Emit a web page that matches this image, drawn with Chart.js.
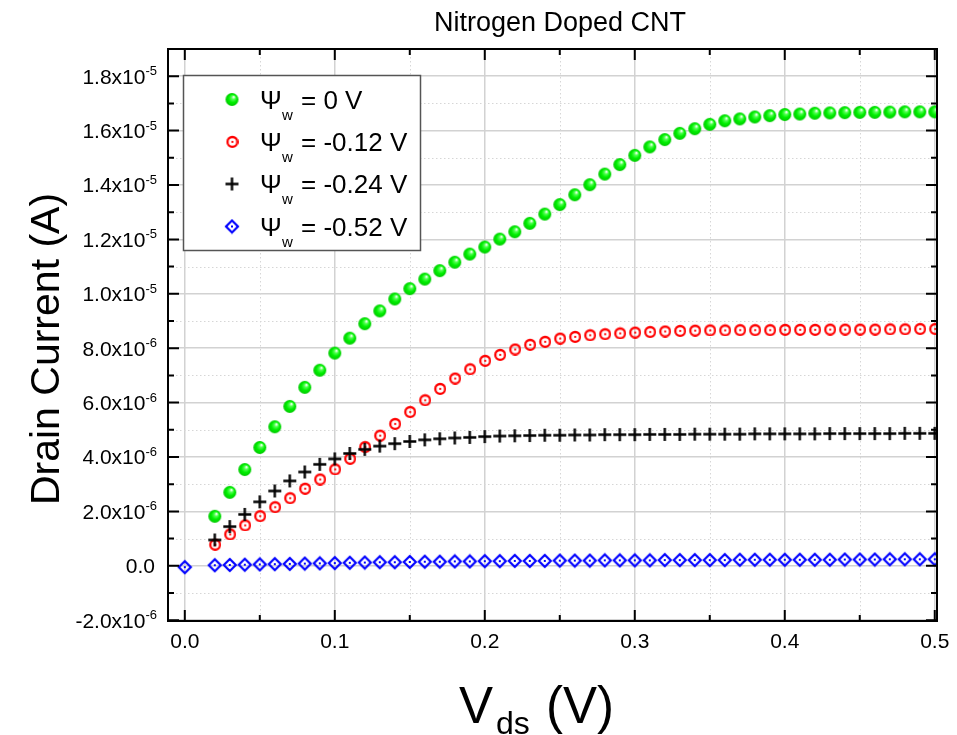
<!DOCTYPE html>
<html>
<head>
<meta charset="utf-8">
<script src="https://cdn.jsdelivr.net/npm/chart.js@4.4.1/dist/chart.umd.min.js"></script>
<style>
  html, body { margin: 0; padding: 0; background: #fff; }
  #wrap { width: 957px; height: 735px; }
</style>
</head>
<body>
<div id="wrap"><canvas id="ivChart" width="957" height="735"></canvas></div>
<script>
// Drain-source voltage (V)
const vds = [0.00, 0.02, 0.03, 0.04, 0.05, 0.06, 0.07, 0.08, 0.09, 0.10, 0.11,
  0.12, 0.13, 0.14, 0.15, 0.16, 0.17, 0.18, 0.19, 0.20, 0.21,
  0.22, 0.23, 0.24, 0.25, 0.26, 0.27, 0.28, 0.29, 0.30, 0.31,
  0.32, 0.33, 0.34, 0.35, 0.36, 0.37, 0.38, 0.39, 0.40, 0.41,
  0.42, 0.43, 0.44, 0.45, 0.46, 0.47, 0.48, 0.49, 0.50];

// Drain current, in units of 1e-6 A
const psi0 = [null, 1.82, 2.70, 3.54, 4.35, 5.11, 5.86, 6.56, 7.19, 7.82, 8.37,
  8.90, 9.37, 9.81, 10.19, 10.54, 10.85, 11.16, 11.46, 11.72, 12.01,
  12.28, 12.59, 12.93, 13.28, 13.64, 14.01, 14.40, 14.75, 15.09, 15.40,
  15.67, 15.90, 16.07, 16.23, 16.36, 16.43, 16.50, 16.55, 16.59, 16.61,
  16.64, 16.65, 16.66, 16.67, 16.67, 16.68, 16.69, 16.69, 16.69];
const psi012 = [null, 0.79, 1.17, 1.50, 1.84, 2.17, 2.50, 2.85, 3.19, 3.56, 3.95,
  4.38, 4.80, 5.23, 5.67, 6.10, 6.52, 6.90, 7.24, 7.55, 7.77,
  7.97, 8.14, 8.25, 8.37, 8.43, 8.49, 8.53, 8.56, 8.59, 8.61,
  8.63, 8.65, 8.66, 8.67, 8.67, 8.68, 8.68, 8.68, 8.69, 8.69,
  8.69, 8.70, 8.70, 8.70, 8.70, 8.71, 8.71, 8.72, 8.72];
const psi024 = [null, 0.95, 1.44, 1.89, 2.35, 2.75, 3.12, 3.45, 3.73, 3.93, 4.13,
  4.28, 4.40, 4.49, 4.57, 4.63, 4.67, 4.70, 4.72, 4.75, 4.77,
  4.78, 4.79, 4.80, 4.80, 4.81, 4.81, 4.82, 4.82, 4.82, 4.83,
  4.83, 4.83, 4.84, 4.84, 4.84, 4.84, 4.85, 4.85, 4.85, 4.85,
  4.85, 4.86, 4.86, 4.86, 4.86, 4.86, 4.87, 4.87, 4.87];
const psi052 = [-0.05, 0.02, 0.03, 0.04, 0.05, 0.06, 0.07, 0.08, 0.09, 0.10, 0.11,
  0.12, 0.13, 0.13, 0.14, 0.15, 0.15, 0.16, 0.16, 0.17, 0.17,
  0.18, 0.18, 0.18, 0.19, 0.19, 0.19, 0.20, 0.20, 0.20, 0.20,
  0.21, 0.21, 0.21, 0.21, 0.21, 0.22, 0.22, 0.22, 0.22, 0.22,
  0.22, 0.22, 0.23, 0.23, 0.23, 0.24, 0.24, 0.24, 0.24];

const seriesNames = ['= 0 V', '= -0.12 V', '= -0.24 V', '= -0.52 V'];

const xTicks = [0, 0.1, 0.2, 0.3, 0.4, 0.5];
const xTickLabels = ['0.0', '0.1', '0.2', '0.3', '0.4', '0.5'];
const xMinor = [0.05, 0.15, 0.25, 0.35, 0.45];
const yTicks = [-2e-6, 0, 2e-6, 4e-6, 6e-6, 8e-6, 1e-5, 1.2e-5, 1.4e-5, 1.6e-5, 1.8e-5];
const yTickMant = ['-2.0', '0.0', '2.0', '4.0', '6.0', '8.0', '1.0', '1.2', '1.4', '1.6', '1.8'];
const yTickExp = ['-6', '', '-6', '-6', '-6', '-6', '-5', '-5', '-5', '-5', '-5'];
const yMinor = [-1e-6, 1e-6, 3e-6, 5e-6, 7e-6, 9e-6, 1.1e-5, 1.3e-5, 1.5e-5, 1.7e-5];

const FONT = '"Liberation Sans", Arial, sans-serif';

// ---- marker images ----
function makeSphere(r) {
  const c = document.createElement('canvas');
  const s = 2 * r + 2;
  c.width = c.height = s;
  const g = c.getContext('2d');
  const m = s / 2;
  const grad = g.createRadialGradient(m + r * 0.3, m - r * 0.4, r * 0.05, m, m, r);
  grad.addColorStop(0, '#ffffff');
  grad.addColorStop(0.25, '#55ff55');
  grad.addColorStop(0.6, '#00f000');
  grad.addColorStop(1, '#00c800');
  g.fillStyle = grad;
  g.beginPath(); g.arc(m, m, r, 0, Math.PI * 2); g.fill();
  return c;
}
function makeRing(r) {
  const c = document.createElement('canvas');
  const s = 2 * r + 4;
  c.width = c.height = s;
  const g = c.getContext('2d');
  const m = s / 2;
  g.strokeStyle = '#ff0000'; g.fillStyle = '#ff0000'; g.lineWidth = 2.3;
  g.beginPath(); g.arc(m, m, r, 0, Math.PI * 2); g.stroke();
  g.beginPath(); g.arc(m, m, 1.1, 0, Math.PI * 2); g.fill();
  return c;
}
function makePlus(h) {
  const c = document.createElement('canvas');
  const s = 2 * h + 2;
  c.width = c.height = s;
  const g = c.getContext('2d');
  const m = s / 2;
  g.strokeStyle = '#000'; g.lineWidth = 2.4;
  g.beginPath();
  g.moveTo(m - h, m); g.lineTo(m + h, m);
  g.moveTo(m, m - h); g.lineTo(m, m + h);
  g.stroke();
  return c;
}
function makeDiamond(h) {
  const c = document.createElement('canvas');
  const s = 2 * h + 4;
  c.width = c.height = s;
  const g = c.getContext('2d');
  const m = s / 2;
  g.strokeStyle = '#0000ff'; g.fillStyle = '#0000ff'; g.lineWidth = 2.2;
  g.beginPath();
  g.moveTo(m, m - h); g.lineTo(m + h, m); g.lineTo(m, m + h); g.lineTo(m - h, m); g.closePath();
  g.stroke();
  g.fillRect(m - 1, m - 1, 2, 2);
  return c;
}
const markers = [makeSphere(6.5), makeRing(4.9), makePlus(6.5), makeDiamond(6)];

function toPoints(arr) {
  return vds.map((x, i) => ({ x: x, y: arr[i] === null ? null : arr[i] * 1e-6 }));
}

// ---- frame, minor grid, inward ticks, labels, legend ----
const decor = {
  id: 'decor',
  beforeDatasetsDraw(chart) {
    const { ctx, chartArea: a, scales: { x, y } } = chart;
    ctx.save();
    ctx.strokeStyle = '#d6d6d6';
    ctx.lineWidth = 1;
    ctx.setLineDash([1.5, 2.5]);
    xMinor.forEach(v => {
      const px = Math.round(x.getPixelForValue(v)) + 0.5;
      ctx.beginPath(); ctx.moveTo(px, a.top); ctx.lineTo(px, a.bottom); ctx.stroke();
    });
    yMinor.forEach(v => {
      const py = Math.round(y.getPixelForValue(v)) + 0.5;
      ctx.beginPath(); ctx.moveTo(a.left, py); ctx.lineTo(a.right, py); ctx.stroke();
    });
    ctx.restore();
  },
  afterDatasetsDraw(chart) {
    const { ctx, chartArea: a, scales: { x, y } } = chart;
    ctx.save();
    ctx.strokeStyle = '#000';
    ctx.lineWidth = 2;
    ctx.strokeRect(a.left, a.top, a.right - a.left, a.bottom - a.top);
    const major = 11, minor = 6;
    ctx.beginPath();
    xTicks.forEach(v => {
      const px = x.getPixelForValue(v);
      ctx.moveTo(px, a.bottom); ctx.lineTo(px, a.bottom - major);
      ctx.moveTo(px, a.top); ctx.lineTo(px, a.top + major);
    });
    xMinor.forEach(v => {
      const px = x.getPixelForValue(v);
      ctx.moveTo(px, a.bottom); ctx.lineTo(px, a.bottom - minor);
      ctx.moveTo(px, a.top); ctx.lineTo(px, a.top + minor);
    });
    yTicks.forEach(v => {
      const py = y.getPixelForValue(v);
      ctx.moveTo(a.left, py); ctx.lineTo(a.left + major, py);
      ctx.moveTo(a.right, py); ctx.lineTo(a.right - major, py);
    });
    yMinor.forEach(v => {
      const py = y.getPixelForValue(v);
      ctx.moveTo(a.left, py); ctx.lineTo(a.left + minor, py);
      ctx.moveTo(a.right, py); ctx.lineTo(a.right - minor, py);
    });
    ctx.stroke();

    // x tick labels
    ctx.fillStyle = '#000';
    ctx.font = '21px ' + FONT;
    ctx.textAlign = 'center';
    ctx.textBaseline = 'alphabetic';
    xTicks.forEach((v, i) => ctx.fillText(xTickLabels[i], x.getPixelForValue(v), 648));

    // y tick labels with superscript exponent
    const rightEdge = 157;
    yTicks.forEach((v, i) => {
      const py = y.getPixelForValue(v);
      ctx.textAlign = 'right';
      if (yTickExp[i]) {
        ctx.font = '13px ' + FONT;
        const ew = ctx.measureText(yTickExp[i]).width;
        ctx.fillText(yTickExp[i], rightEdge, py - 1);
        ctx.font = '21px ' + FONT;
        ctx.fillText(yTickMant[i] + 'x10', rightEdge - ew, py + 7.5);
      } else {
        ctx.font = '21px ' + FONT;
        ctx.fillText(yTickMant[i], rightEdge - 2, py + 7.5);
      }
    });

    // title
    ctx.textAlign = 'center';
    ctx.font = '27px ' + FONT;
    ctx.fillText('Nitrogen Doped CNT', 560, 31);

    // y axis title
    ctx.save();
    ctx.translate(59, 349);
    ctx.rotate(-Math.PI / 2);
    ctx.font = '41px ' + FONT;
    ctx.textAlign = 'center';
    ctx.fillText('Drain Current (A)', 0, 0);
    ctx.restore();

    // x axis title: V_ds (V)
    ctx.textAlign = 'left';
    let tx = 459;
    ctx.font = '51px ' + FONT;
    ctx.fillText('V', tx, 723);
    tx += ctx.measureText('V').width + 3;
    ctx.font = '32px ' + FONT;
    ctx.fillText('ds', tx, 734);
    tx += ctx.measureText('ds').width + 2;
    ctx.font = '51px ' + FONT;
    ctx.fillText(' (V)', tx, 723);

    // legend
    const lx = 183.5, ly = 75.5, lw = 237, lh = 175;
    ctx.fillStyle = '#fff';
    ctx.fillRect(lx, ly, lw, lh);
    ctx.strokeStyle = '#555';
    ctx.lineWidth = 1.5;
    ctx.strokeRect(lx, ly, lw, lh);
    ctx.fillStyle = '#000';
    const baselines = [108.5, 150.5, 193, 235.5];
    seriesNames.forEach((name, i) => {
      const b = baselines[i];
      const img = markers[i];
      ctx.drawImage(img, 232 - img.width / 2, b - 9 - img.height / 2);
      ctx.font = '26px ' + FONT;
      ctx.fillText('\u03A8', 260, b);
      ctx.font = '15px ' + FONT;
      ctx.fillText('w', 282, b + 11);
      ctx.font = '26px ' + FONT;
      ctx.fillText(name, 301, b);
    });
    ctx.restore();
  }
};

const sets = [psi0, psi012, psi024, psi052];
const orders = [0, 2, 1, 3];

new Chart(document.getElementById('ivChart'), {
  type: 'scatter',
  data: {
    datasets: sets.map((arr, i) => ({
      label: seriesNames[i],
      data: toPoints(arr),
      pointStyle: markers[i],
      pointRadius: 6,
      pointHoverRadius: 6,
      showLine: false,
      order: orders[i]
    }))
  },
  options: {
    responsive: false,
    animation: false,
    events: [],
    layout: { padding: { left: 168, right: 20, top: 49, bottom: 114 } },
    plugins: { legend: { display: false }, tooltip: { enabled: false }, title: { display: false } },
    scales: {
      x: {
        type: 'linear',
        min: -0.0112,
        max: 0.5015,
        afterBuildTicks: s => { s.ticks = xTicks.map(v => ({ value: v })); },
        ticks: { display: false },
        grid: { color: '#d2d2d2', lineWidth: 1.5, drawTicks: false },
        border: { display: false }
      },
      y: {
        type: 'linear',
        min: -2.03e-6,
        max: 1.9e-5,
        afterBuildTicks: s => { s.ticks = yTicks.map(v => ({ value: v })); },
        ticks: { display: false },
        grid: { color: '#d2d2d2', lineWidth: 1.5, drawTicks: false },
        border: { display: false }
      }
    }
  },
  plugins: [decor]
});
</script>
</body>
</html>
